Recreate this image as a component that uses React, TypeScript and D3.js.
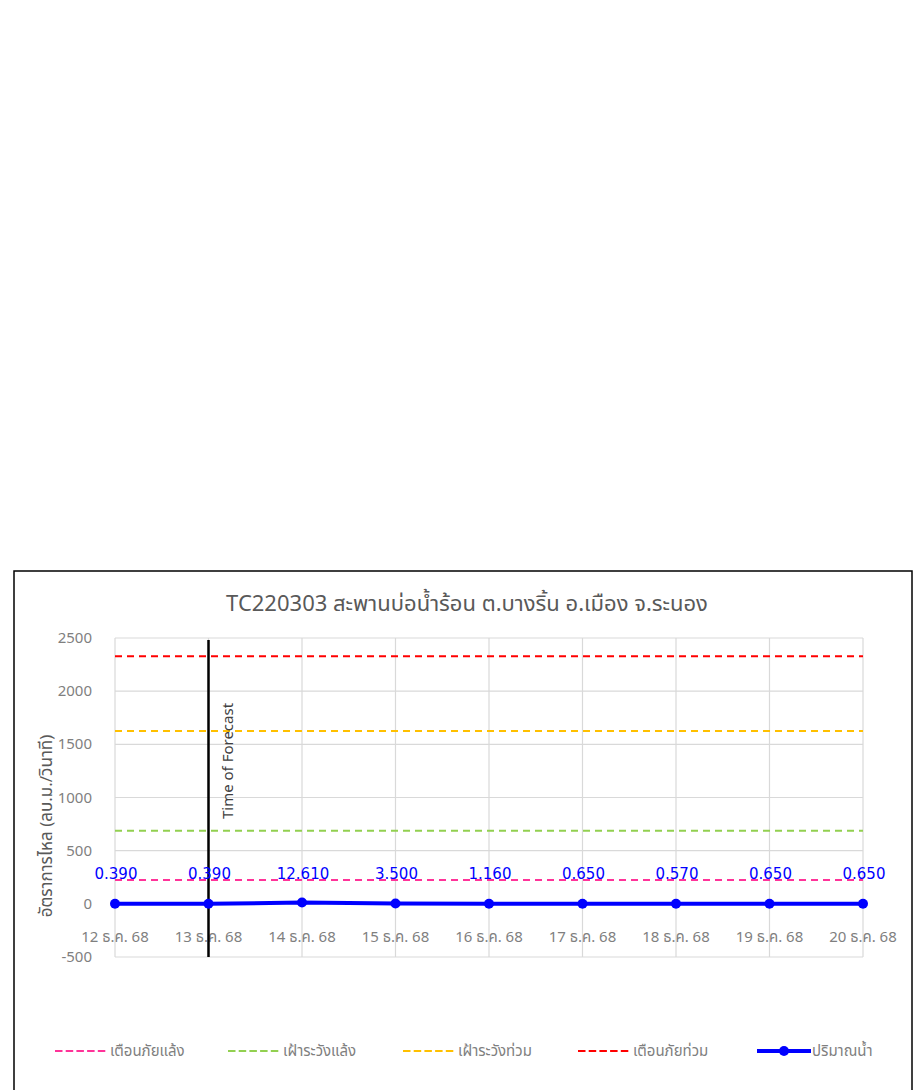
import React from "react";
import * as d3 from "d3";

const categories = ["12 ธ.ค. 68", "13 ธ.ค. 68", "14 ธ.ค. 68", "15 ธ.ค. 68", "16 ธ.ค. 68", "17 ธ.ค. 68", "18 ธ.ค. 68", "19 ธ.ค. 68", "20 ธ.ค. 68"];
const flow = [0.39, 0.39, 12.61, 3.5, 1.16, 0.65, 0.57, 0.65, 0.65];
const yTicks = [-500, 0, 500, 1000, 1500, 2000, 2500];
const thresholds = [
  { name: "เตือนภัยแล้ง", value: 225, color: "#ff3399" },
  { name: "เฝ้าระวังแล้ง", value: 688, color: "#92d050" },
  { name: "เฝ้าระวังท่วม", value: 1625, color: "#ffc000" },
  { name: "เตือนภัยท่วม", value: 2328, color: "#ff0000" },
];
const seriesName = "ปริมาณน้ำ";
const forecastIndex = 1;
const title = "TC220303 สะพานบ่อน้ำร้อน ต.บางริ้น อ.เมือง จ.ระนอง";
const yTitle = "อัตราการไหล (ลบ.ม./วินาที)";

const FONT = "'Noto Sans', 'Noto Sans Thai', 'DejaVu Sans', sans-serif";

export default function App() {
  const x = d3.scalePoint<string>().domain(categories).range([115, 863]);
  const y = d3.scaleLinear().domain([-500, 2500]).range([957, 638]);
  const line = d3
    .line<number>()
    .x((_, i) => x(categories[i]) as number)
    .y((d) => y(d));
  const x0 = 115;
  const x1 = 863;
  const fx = x(categories[forecastIndex]) as number;

  const legendItems = [
    ...thresholds.map((t, i) => ({ name: t.name, color: t.color, x: [55, 228, 403, 578][i], dashed: true })),
    { name: seriesName, color: "#0000ff", x: 757, dashed: false },
  ];

  return (
    <svg width={917} height={1090} style={{ position: "absolute", left: 0, top: 0, background: "#fff" }}>
      <rect x={14} y={571} width={898} height={530} fill="#fff" stroke="#000" strokeWidth={1.5} />
      <text x={467} y={611} textAnchor="middle" fontFamily={FONT} fontSize={22} fill="#595959">
        {title}
      </text>
      {/* grid */}
      {yTicks.map((t) => (
        <line key={"h" + t} x1={x0} x2={x1} y1={y(t)} y2={y(t)} stroke="#d9d9d9" strokeWidth={1.2} />
      ))}
      {categories.map((c) => (
        <line key={"v" + c} x1={x(c)} x2={x(c)} y1={y(2500)} y2={y(-500)} stroke="#d9d9d9" strokeWidth={1.2} />
      ))}
      {/* y tick labels */}
      {yTicks.map((t) => (
        <text key={"yt" + t} x={92} y={y(t) + 5} textAnchor="end" fontFamily={FONT} fontSize={15} fill="#7f7f7f">
          {t}
        </text>
      ))}
      {/* x tick labels */}
      {categories.map((c) => (
        <text key={"xt" + c} x={x(c)} y={942} textAnchor="middle" fontFamily={FONT} fontSize={15} fill="#7f7f7f">
          {c}
        </text>
      ))}
      <text
        transform={`translate(52, 826) rotate(-90)`}
        textAnchor="middle"
        fontFamily={FONT}
        fontSize={17}
        fill="#595959"
      >
        {yTitle}
      </text>
      {/* thresholds */}
      {thresholds.map((t) => (
        <line
          key={t.name}
          x1={x0}
          x2={x1}
          y1={y(t.value)}
          y2={y(t.value)}
          stroke={t.color}
          strokeWidth={2}
          strokeDasharray="7 5"
        />
      ))}
      {/* forecast line */}
      <line x1={fx} x2={fx} y1={640} y2={957} stroke="#000" strokeWidth={2.5} />
      <text
        transform={`translate(233, 761) rotate(-90)`}
        textAnchor="middle"
        fontFamily={FONT}
        fontSize={15}
        fill="#404040"
      >
        Time of Forecast
      </text>
      {/* series */}
      <path d={line(flow) || ""} fill="none" stroke="#0000ff" strokeWidth={4} />
      {flow.map((v, i) => (
        <circle key={"p" + i} cx={x(categories[i])} cy={y(v)} r={5} fill="#0000ff" />
      ))}
      {flow.map((v, i) => (
        <text
          key={"l" + i}
          x={(x(categories[i]) as number) + 1}
          y={879}
          textAnchor="middle"
          fontFamily="'DejaVu Sans', sans-serif"
          fontSize={15}
          fill="#0000ff"
        >
          {v.toFixed(3)}
        </text>
      ))}
      {/* legend */}
      {legendItems.map((it) => (
        <g key={it.name} transform={`translate(${it.x}, 1051)`}>
          {it.dashed ? (
            <line x1={0} x2={52} y1={0} y2={0} stroke={it.color} strokeWidth={2} strokeDasharray="7.5 3.2" />
          ) : (
            <>
              <line x1={0} x2={54} y1={0} y2={0} stroke={it.color} strokeWidth={4} />
              <circle cx={27} cy={0} r={5} fill={it.color} />
            </>
          )}
          <text x={55} y={5} fontFamily={FONT} fontSize={15} fill="#7f7f7f">
            {it.name}
          </text>
        </g>
      ))}
    </svg>
  );
}
